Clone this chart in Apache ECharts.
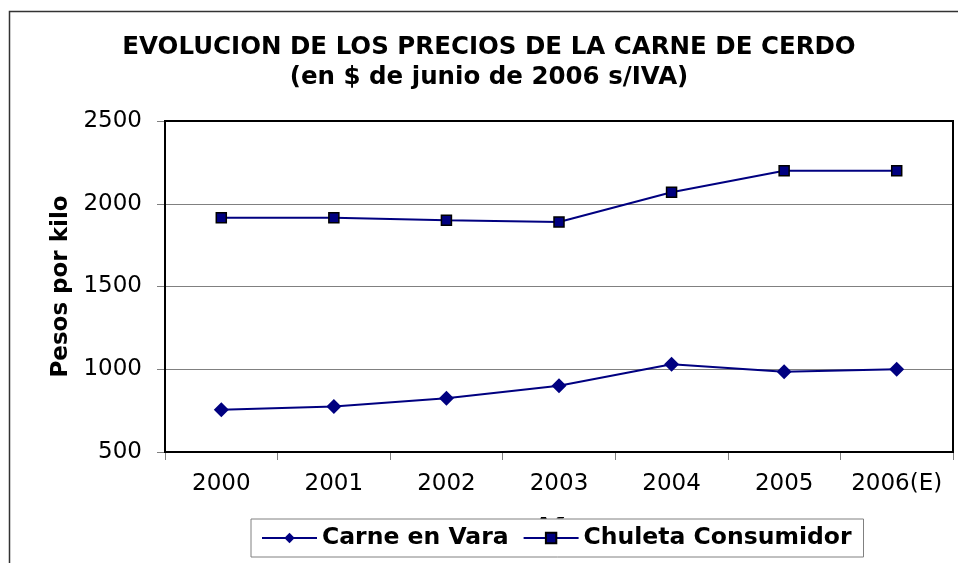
<!DOCTYPE html>
<html>
<head>
<meta charset="utf-8">
<script src="https://cdn.jsdelivr.net/npm/echarts@6/dist/echarts.min.js"></script>
<style>
  html, body { margin: 0; padding: 0; background: #fff; }
  #chart { width: 958px; height: 563px; }
</style>
</head>
<body>
<div id="chart"></div>
<script>
// datos
const years = ['2000', '2001', '2002', '2003', '2004', '2005', '2006(E)']
const carneEnVara = [755, 775, 825, 900, 1030, 985, 1000]
const chuletaConsumidor = [1915, 1915, 1900, 1890, 2070, 2200, 2200]
const yTicks = { min: 500, max: 2500, step: 500 }

const navy = '#000080'
const font = 'DejaVu Sans, Verdana, sans-serif'

const chart = echarts.init(document.getElementById('chart'))

chart.setOption({
  animation: false,
  backgroundColor: '#fff',
  textStyle: { fontFamily: font },
  title: {
    text: 'EVOLUCION DE LOS PRECIOS DE LA CARNE DE CERDO\n(en $ de junio de 2006 s/IVA)',
    left: 484,
    top: 28,
    textAlign: 'center',
    textStyle: { fontSize: 24.5, fontWeight: 'bold', color: '#000', lineHeight: 30, fontFamily: font },
  },
  grid: { left: 165, right: 5, top: 121, bottom: 111 },
  legend: {
    left: 251,
    top: 519,
    padding: [7, 12, 7, 10],
    itemGap: 14,
    itemWidth: 55,
    itemHeight: 13,
    backgroundColor: '#fff',
    borderColor: '#808080',
    borderWidth: 1,
    textStyle: { fontSize: 23.5, fontWeight: 'bold', color: '#000', fontFamily: font },
    data: ['Carne en Vara', 'Chuleta Consumidor'],
  },
  xAxis: {
    type: 'category',
    data: years,
    boundaryGap: true,
    name: 'Año',
    nameLocation: 'middle',
    nameGap: 64,
    nameTextStyle: { fontSize: 22, fontWeight: 'bold', color: '#000' },
    axisLine: { lineStyle: { color: '#000', width: 2 } },
    axisTick: { show: true, length: 8, lineStyle: { color: '#808080', width: 1 } },
    axisLabel: { fontSize: 23, color: '#000', margin: 21, interval: 0 },
    splitLine: { show: false },
  },
  yAxis: {
    type: 'value',
    min: yTicks.min,
    max: yTicks.max,
    interval: yTicks.step,
    name: 'Pesos por kilo',
    nameLocation: 'middle',
    nameGap: 92,
    nameTextStyle: { fontSize: 23, fontWeight: 'bold', color: '#000' },
    axisLine: { show: true, lineStyle: { color: '#000', width: 2 } },
    axisTick: { show: true, length: 8, lineStyle: { color: '#808080', width: 1 } },
    axisLabel: { fontSize: 23, color: '#000', margin: 23, formatter: v => String(v) },
    splitLine: { show: true, lineStyle: { color: '#808080', width: 1 } },
  },
  series: [
    {
      name: 'Carne en Vara',
      type: 'line',
      data: carneEnVara,
      symbol: 'diamond',
      symbolSize: 15,
      lineStyle: { color: navy, width: 2 },
      itemStyle: { color: navy },
    },
    {
      name: 'Chuleta Consumidor',
      type: 'line',
      data: chuletaConsumidor,
      symbol: 'rect',
      symbolSize: 10,
      lineStyle: { color: navy, width: 2 },
      itemStyle: { color: navy, borderColor: '#000', borderWidth: 1.5 },
    },
  ],
  graphic: [
    // marco exterior del gráfico
    {
      type: 'rect',
      shape: { x: 9.5, y: 11.5, width: 1000, height: 600 },
      style: { fill: 'none', stroke: '#333', lineWidth: 1.5 },
      z: -10,
    },
    // borde del área de trazado
    {
      type: 'rect',
      shape: { x: 165, y: 121, width: 788, height: 331 },
      style: { fill: 'none', stroke: '#000', lineWidth: 2 },
      silent: true,
      z: 1,
    },
  ],
})
</script>
</body>
</html>
